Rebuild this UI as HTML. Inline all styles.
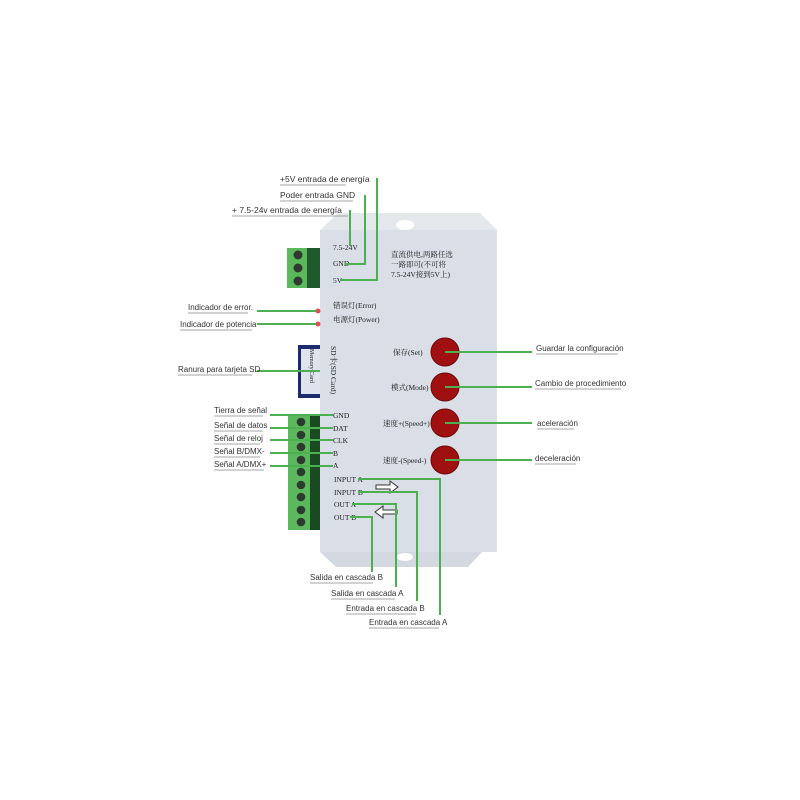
<!DOCTYPE html>
<html><head><meta charset="utf-8"><style>
html,body{margin:0;padding:0;background:#fff;width:800px;height:800px;overflow:hidden}
svg{display:block}
.l{font-family:"Liberation Sans",sans-serif;font-size:8.5px;fill:#333}
.c{font-family:"Liberation Serif","Noto Serif CJK SC",serif;font-size:7.5px;fill:#222}
.u{stroke:#888;stroke-width:0.7}
.g{stroke:#4caf50;stroke-width:2;fill:none}
</style></head><body>
<svg width="800" height="800" viewBox="0 0 800 800">
<!-- case -->
<polygon points="338,213 480,213 497,230 320,230" fill="#e4e7ec"/>
<ellipse cx="405" cy="225" rx="9" ry="5" fill="#fff"/>
<rect x="320" y="230" width="177" height="322" fill="#d9dee7"/>
<polygon points="320,552 482,552 468,567 336,567" fill="#d3d8e1"/>
<ellipse cx="405" cy="557" rx="8" ry="4" fill="#fff"/>
<!-- top terminal -->
<rect x="287" y="248" width="20" height="40" fill="#5cb85c"/>
<rect x="307" y="248" width="13" height="40" fill="#1f5a2a"/>
<circle cx="298" cy="255" r="4.5" fill="#2e3a30"/><circle cx="298" cy="268" r="4.5" fill="#2e3a30"/><circle cx="298" cy="281" r="4.5" fill="#2e3a30"/>
<!-- SD -->
<rect x="298" y="345" width="22" height="53" fill="#1d2a6e"/>
<rect x="301" y="349" width="19" height="45" fill="#dfe3ee"/>
<text class="c" transform="translate(310,349) rotate(90)" style="font-size:6px">Memory Card</text>
<!-- bottom terminal -->
<rect x="288" y="415" width="22" height="115" fill="#5cb85c"/>
<rect x="310" y="415" width="10" height="115" fill="#1a4a22"/>
<g fill="#2e3a30">
<circle cx="301" cy="422" r="4.3"/><circle cx="301" cy="435" r="4.3"/><circle cx="301" cy="447" r="4.3"/><circle cx="301" cy="460" r="4.3"/><circle cx="301" cy="472" r="4.3"/><circle cx="301" cy="485" r="4.3"/><circle cx="301" cy="497" r="4.3"/><circle cx="301" cy="510" r="4.3"/><circle cx="301" cy="522" r="4.3"/></g>
<!-- case text -->
<text class="c" x="333" y="250">7.5-24V</text>
<text class="c" x="333" y="266">GND</text>
<text class="c" x="333" y="283">5V</text>
<text class="c" x="391" y="257">直流供电,两路任选</text>
<text class="c" x="391" y="267">一路即可(不可将</text>
<text class="c" x="391" y="277">7.5-24V接到5V上)</text>
<text class="c" x="333" y="308">错误灯(Error)</text>
<text class="c" x="333" y="322">电源灯(Power)</text>
<text class="c" transform="translate(331,346) rotate(90)">SD卡(SD Card)</text>
<text class="c" x="333" y="418">GND</text>
<text class="c" x="333" y="431">DAT</text>
<text class="c" x="333" y="443">CLK</text>
<text class="c" x="333" y="456">B</text>
<text class="c" x="333" y="468">A</text>
<text class="c" x="334" y="482">INPUT A</text>
<text class="c" x="334" y="495">INPUT B</text>
<text class="c" x="334" y="507">OUT A</text>
<text class="c" x="334" y="520">OUT B</text>
<text class="c" x="393" y="355">保存(Set)</text>
<text class="c" x="391" y="390">模式(Mode)</text>
<text class="c" x="383" y="426">速度+(Speed+)</text>
<text class="c" x="383" y="463">速度-(Speed-)</text>
<!-- arrows -->
<path d="M376,485 h14 v-4 l8,6 -8,6 v-4 h-14z" fill="#fff" stroke="#333" stroke-width="1"/>
<path d="M397,510 h-14 v-4 l-8,6 8,6 v-4 h14z" fill="#fff" stroke="#333" stroke-width="1"/>
<!-- buttons -->
<g fill="#a01010" stroke="#6b0a0a" stroke-width="1">
<circle cx="445" cy="352" r="14"/><circle cx="445" cy="387" r="14"/><circle cx="445" cy="423" r="14"/><circle cx="445" cy="460" r="14"/></g>
<!-- LEDs -->
<circle cx="318" cy="311" r="2.5" fill="#e05050"/><circle cx="318" cy="324" r="2.5" fill="#e05050"/>
<!-- green lines -->
<path class="g" d="M377,178 V280 H340"/>
<path class="g" d="M365,195 V264 H345"/>
<path class="g" d="M350,210 V246"/>
<path class="g" d="M257,311 H316"/>
<path class="g" d="M257,324 H316"/>
<path class="g" d="M257,371 H320"/>
<path class="g" d="M270,415 H333"/>
<path class="g" d="M270,428 H333"/>
<path class="g" d="M270,440 H333"/>
<path class="g" d="M270,453 H333"/>
<path class="g" d="M270,466 H333"/>
<path class="g" d="M358,479 H440 V615"/>
<path class="g" d="M358,492 H417 V601"/>
<path class="g" d="M352,504 H396 V587"/>
<path class="g" d="M350,517 H372 V572"/>
<path class="g" d="M445,352 H532"/>
<path class="g" d="M445,387 H532"/>
<path class="g" d="M445,423 H532"/>
<path class="g" d="M445,460 H532"/>
<!-- labels -->
<text class="l" x="280" y="182">+5V entrada de energía</text><line class="u" x1="280" y1="185" x2="346" y2="185"/>
<text class="l" x="280" y="198">Poder entrada GND</text><line class="u" x1="280" y1="201" x2="353" y2="201"/>
<text class="l" x="232" y="213">+ 7.5-24v entrada de energía</text><line class="u" x1="232" y1="216" x2="348" y2="216"/>
<text class="l" x="188" y="310" style="font-size:8px">Indicador de error.</text><line class="u" x1="188" y1="313" x2="248" y2="313"/>
<text class="l" x="180" y="327" style="font-size:8px">Indicador de potencia</text><line class="u" x1="180" y1="330" x2="252" y2="330"/>
<text class="l" x="178" y="372" style="font-size:8px">Ranura para tarjeta SD</text><line class="u" x1="178" y1="375" x2="252" y2="375"/>
<text class="l" x="214" y="413" style="font-size:8px">Tierra de señal</text><line class="u" x1="214" y1="416" x2="263" y2="416"/>
<text class="l" x="214" y="428" style="font-size:8px">Señal de datos</text><line class="u" x1="214" y1="431" x2="263" y2="431"/>
<text class="l" x="214" y="441" style="font-size:8px">Señal de reloj</text><line class="u" x1="214" y1="444" x2="260" y2="444"/>
<text class="l" x="214" y="454" style="font-size:8px">Señal B/DMX-</text><line class="u" x1="214" y1="457" x2="260" y2="457"/>
<text class="l" x="214" y="467" style="font-size:8px">Señal A/DMX+</text><line class="u" x1="214" y1="470" x2="264" y2="470"/>
<text class="l" x="310" y="580" style="font-size:8px">Salida en cascada B</text><line class="u" x1="310" y1="583" x2="373" y2="583"/>
<text class="l" x="331" y="596" style="font-size:8px">Salida en cascada A</text><line class="u" x1="331" y1="599" x2="395" y2="599"/>
<text class="l" x="346" y="611" style="font-size:8px">Entrada en cascada B</text><line class="u" x1="346" y1="614" x2="416" y2="614"/>
<text class="l" x="369" y="625" style="font-size:8px">Entrada en cascada A</text><line class="u" x1="369" y1="628" x2="439" y2="628"/>
<text class="l" x="536" y="351" style="font-size:8px">Guardar la configuración</text><line class="u" x1="536" y1="354" x2="618" y2="354"/>
<text class="l" x="535" y="386" style="font-size:8px">Cambio de procedimiento</text><line class="u" x1="535" y1="389" x2="621" y2="389"/>
<text class="l" x="537" y="426" style="font-size:8px">aceleración</text><line class="u" x1="537" y1="429" x2="574" y2="429"/>
<text class="l" x="535" y="461" style="font-size:8px">deceleración</text><line class="u" x1="535" y1="464" x2="576" y2="464"/>
</svg>
</body></html>
